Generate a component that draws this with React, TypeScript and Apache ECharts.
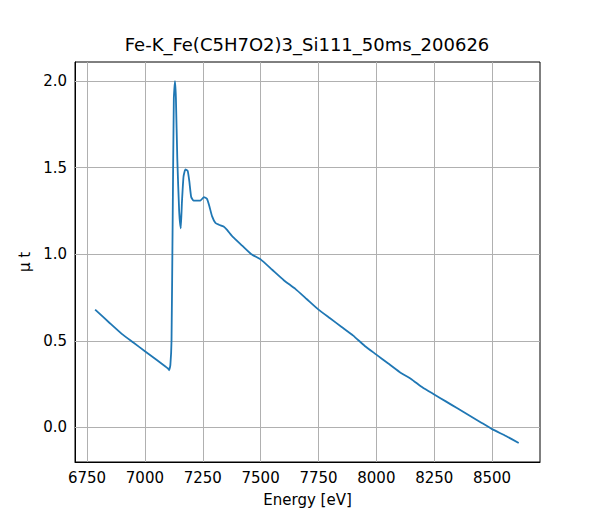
import React, { useEffect, useRef } from 'react';
import * as echarts from 'echarts';

const energy = [6785, 6850, 6900, 6950, 7000, 7050, 7090, 7100, 7105, 7110, 7115, 7120, 7125, 7130, 7134, 7140, 7148, 7155, 7160, 7167, 7175, 7185, 7192, 7200, 7210, 7225, 7240, 7255, 7268, 7278, 7290, 7305, 7320, 7340, 7355, 7380, 7420, 7460, 7500, 7550, 7600, 7650, 7700, 7750, 7800, 7850, 7900, 7950, 8000, 8050, 8100, 8150, 8200, 8250, 8300, 8350, 8400, 8450, 8500, 8560, 8615];
const mut = [0.68, 0.6, 0.54, 0.49, 0.44, 0.39, 0.35, 0.34, 0.33, 0.36, 0.5, 1.2, 1.9, 2.0, 1.9, 1.55, 1.25, 1.15, 1.3, 1.45, 1.49, 1.48, 1.42, 1.33, 1.31, 1.31, 1.31, 1.33, 1.32, 1.28, 1.22, 1.18, 1.17, 1.16, 1.14, 1.1, 1.05, 1.0, 0.97, 0.91, 0.85, 0.8, 0.74, 0.68, 0.63, 0.58, 0.53, 0.47, 0.42, 0.37, 0.32, 0.28, 0.23, 0.19, 0.15, 0.11, 0.07, 0.03, -0.01, -0.05, -0.09];
const xTicks = [6750, 7000, 7250, 7500, 7750, 8000, 8250, 8500];
const yTicks = [0, 0.5, 1, 1.5, 2];

export default function App() {
  const ref = useRef<HTMLDivElement>(null);
  useEffect(() => {
    if (!ref.current) return;
    const chart = echarts.init(ref.current, undefined, { renderer: 'svg' });
    const axisCommon = {
      axisLine: { onZero: false, lineStyle: { color: '#000' } },
      axisTick: { inside: true, lineStyle: { color: '#000' } },
      axisLabel: { color: '#000', fontSize: 15, fontFamily: 'DejaVu Sans' },
      splitLine: { show: false },
      nameTextStyle: { color: '#000', fontSize: 15, fontFamily: 'DejaVu Sans' },
    };
    chart.setOption({
      animation: false,
      title: {
        text: 'Fe-K_Fe(C5H7O2)3_Si111_50ms_200626',
        left: 299, top: 27, textAlign: 'center',
        textStyle: { fontSize: 18, fontWeight: 'normal', color: '#000', fontFamily: 'DejaVu Sans' },
        padding: 0,
      },
      grid: { left: 67, right: 52, top: 54, bottom: 49, show: true, borderColor: '#000', borderWidth: 1 },
      xAxis: {
        type: 'value', min: 6698, max: 8707,
        name: 'Energy [eV]', nameLocation: 'middle', nameGap: 30,
        ...axisCommon,
        axisLabel: { ...axisCommon.axisLabel, customValues: xTicks, formatter: (v: number) => String(v) },
        axisTick: { ...axisCommon.axisTick, customValues: xTicks },
      },
      yAxis: {
        type: 'value', min: -0.2, max: 2.11,
        name: 'μ t', nameLocation: 'middle', nameGap: 42,
        ...axisCommon,
        axisLabel: { ...axisCommon.axisLabel, customValues: yTicks, formatter: (v: number) => v.toFixed(1) },
        axisTick: { ...axisCommon.axisTick, customValues: yTicks },
      },
      series: [
        {
          type: 'line', showSymbol: false, smooth: 0.15,
          data: energy.map((e, i) => [e, mut[i]]),
          lineStyle: { color: '#1f77b4', width: 1.8 },
          z: 3,
          markLine: {
            silent: true, symbol: 'none', label: { show: false }, z: 1,
            lineStyle: { color: '#b0b0b0', type: 'solid', width: 1 },
            data: [...xTicks.map((x) => ({ xAxis: x })), ...yTicks.map((y) => ({ yAxis: y }))],
          },
        },
      ],
    });
    return () => chart.dispose();
  }, []);
  return <div ref={ref} style={{ width: 584, height: 504 }} />;
}
